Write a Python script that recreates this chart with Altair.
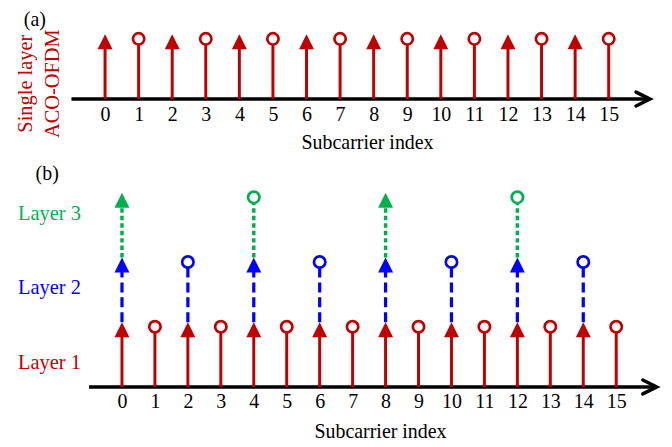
import altair as alt
import pandas as pd

RED = "#C00000"
BLUE = "#0000FF"
GREEN = "#00B050"
FONT = "Liberation Serif"

# ---------------- data ----------------
subcarriers = [0, 1, 2, 3, 4, 5, 6, 7, 8, 9, 10, 11, 12, 13, 14, 15]
single_kind = ["arrow", "circle", "arrow", "circle", "arrow", "circle", "arrow", "circle",
               "arrow", "circle", "arrow", "circle", "arrow", "circle", "arrow", "circle"]
layer1_sub = [0, 1, 2, 3, 4, 5, 6, 7, 8, 9, 10, 11, 12, 13, 14, 15]
layer1_kind = ["arrow", "circle", "arrow", "circle", "arrow", "circle", "arrow", "circle",
               "arrow", "circle", "arrow", "circle", "arrow", "circle", "arrow", "circle"]
layer2_sub = [0, 2, 4, 6, 8, 10, 12, 14]
layer2_kind = ["arrow", "circle", "arrow", "circle", "arrow", "circle", "arrow", "circle"]
layer3_sub = [0, 4, 8, 12]
layer3_kind = ["arrow", "circle", "arrow", "circle"]
layer_names = ["Layer 1", "Layer 2", "Layer 3"]
layer_base = [0, 1, 2]
layer_top = [1, 2, 3]
single_base = 0
single_top = 1
axis_span = [-1.0, 16.23]

# ---------------- styling / geometry ----------------
UNIT_PX = 65.0
ARROW_PX = 15.0
CIRCLE_DROP_PX = 4.5
ARROW_PATH = "M0,0L1,2L-1,2Z"
CHEVRON_PATH = "M-2,-1L0,0L-2,1"
W = 656
HA = 89.5
HB = 226.7
XA = [-(105.5 - 8) / 33.73, -(105.5 - 8) / 33.73 + W / 33.73]
XB = [-(122.5 - 8) / 33.1, -(122.5 - 8) / 33.1 + W / 33.1]
YA = [0, HA / UNIT_PX]
YB = [0, HB / UNIT_PX]


def stem_rows(subs, kinds, layer, base, top):
    rows = []
    for s, k in zip(subs, kinds):
        if k == "arrow":
            end = top - (ARROW_PX - 1) / UNIT_PX
            my = top
        else:
            end = top - CIRCLE_DROP_PX / UNIT_PX
            my = end
        rows.append(dict(x=s, base=base, end=end, mark_y=my, kind=k, layer=layer))
    return rows


df_a = pd.DataFrame(stem_rows(subcarriers, single_kind, "Layer 1", single_base, single_top))
rows_b = []
for subs, kinds, name, b, t in zip([layer1_sub, layer2_sub, layer3_sub],
                                   [layer1_kind, layer2_kind, layer3_kind],
                                   layer_names, layer_base, layer_top):
    rows_b += stem_rows(subs, kinds, name, b, t)
df_b = pd.DataFrame(rows_b)

COLOR = alt.Color("layer:N", scale=alt.Scale(domain=layer_names, range=[RED, BLUE, GREEN]), legend=None)
DASH = alt.StrokeDash("layer:N", scale=alt.Scale(domain=layer_names, range=[[1, 0], [10, 5], [4.5, 3]]), legend=None)
SW = alt.StrokeWidth("layer:N", scale=alt.Scale(domain=layer_names, range=[3, 3.5, 3.5]), legend=None)


def make_axis(title_x, title_y, pad):
    return alt.Axis(values=subcarriers, title="Subcarrier index", domain=False, ticks=False, tickSize=0,
                    grid=False, labelOverlap=False, labelFlush=False, labelFont=FONT, labelFontSize=20,
                    labelColor="black", labelPadding=pad, titleFont=FONT, titleFontSize=20,
                    titleFontWeight="normal", titleColor="black", titleX=title_x, titleY=title_y,
                    titleBaseline="alphabetic", titleAlign="center")


def panel(df, xdom, ydom, axis, texts, width, height):
    X = alt.X("x:Q", scale=alt.Scale(domain=xdom, nice=False, zero=False), axis=axis)
    ys = alt.Scale(domain=ydom, nice=False, zero=False)
    axis_df = pd.DataFrame({"x": [axis_span[0]], "x2": [axis_span[1] - 0.03], "y": [0.0]})
    tip_df = pd.DataFrame({"x": [axis_span[1]], "y": [0.0]})
    axis_line = alt.Chart(axis_df).mark_rule(color="black", strokeWidth=3.5).encode(
        x=X, x2="x2:Q", y=alt.Y("y:Q", scale=ys, axis=None))
    chevron = alt.Chart(tip_df).mark_point(shape=CHEVRON_PATH, filled=False, size=196, strokeWidth=3.5,
                                           color="black", opacity=1, strokeCap="round").encode(
        x=X, y=alt.Y("y:Q", scale=ys, axis=None))
    stems = alt.Chart(df).mark_rule().encode(
        x=X, y=alt.Y("base:Q", scale=ys, axis=None), y2="end:Q", color=COLOR, strokeDash=DASH, strokeWidth=SW)
    arrows = alt.Chart(df).transform_filter("datum.kind == 'arrow'").mark_point(
        shape=ARROW_PATH, filled=True, size=225, opacity=1, strokeWidth=0).encode(
        x=X, y=alt.Y("mark_y:Q", scale=ys, axis=None), color=COLOR)
    circles = alt.Chart(df).transform_filter("datum.kind == 'circle'").mark_point(
        shape="circle", filled=False, fill="white", fillOpacity=1, size=130, strokeWidth=2.7, opacity=1).encode(
        x=X, y=alt.Y("mark_y:Q", scale=ys, axis=None), color=COLOR)
    layers = [axis_line, chevron, stems, circles, arrows] + texts(X, ys)
    return alt.layer(*layers).properties(width=width, height=height)


def texts_a(X, ys):
    lab = pd.DataFrame({"x": [-2.09], "y": [1.131], "t": ["(a)"]})
    side = pd.DataFrame({"x": [-2.19], "y": [0.238], "t": ["Single layer\nACO-OFDM"]})
    return [
        alt.Chart(lab).mark_text(font=FONT, fontSize=20, color="black", align="center",
                                 baseline="alphabetic").encode(
            x=X, y=alt.Y("y:Q", scale=ys, axis=None), text="t:N"),
        alt.Chart(side).mark_text(font=FONT, fontSize=20.5, color=RED, align="center", baseline="alphabetic",
                                  angle=270, lineBreak="\n", lineHeight=28).encode(
            x=X, y=alt.Y("y:Q", scale=ys, axis=None), text="t:N"),
    ]


def texts_b(X, ys):
    lab = pd.DataFrame({"x": [-2.27], "y": [3.198], "t": ["(b)"]})
    layers_df = pd.DataFrame({"x": [-2.2, -2.2, -2.2], "y": [0.28, 1.43, 2.588], "t": layer_names})
    return [
        alt.Chart(lab).mark_text(font=FONT, fontSize=20, color="black", align="center",
                                 baseline="alphabetic").encode(
            x=X, y=alt.Y("y:Q", scale=ys, axis=None), text="t:N"),
        alt.Chart(layers_df).mark_text(font=FONT, fontSize=20.5, align="center", baseline="alphabetic").encode(
            x=X, y=alt.Y("y:Q", scale=ys, axis=None), text="t:N",
            color=alt.Color("t:N", scale=alt.Scale(domain=layer_names, range=[RED, BLUE, GREEN]), legend=None)),
    ]


pa = panel(df_a, XA, YA, make_axis(360.7, 50.0, 6), texts_a, W, HA)
pb = panel(df_b, XB, YB, make_axis(373.7, 51.0, 5), texts_b, W, HB)

chart = alt.vconcat(pa, pb, spacing=8).properties(padding=0).resolve_scale(color="independent").configure_view(stroke=None)

chart.save("out.html", embed_options={"renderer": "svg", "actions": False})
